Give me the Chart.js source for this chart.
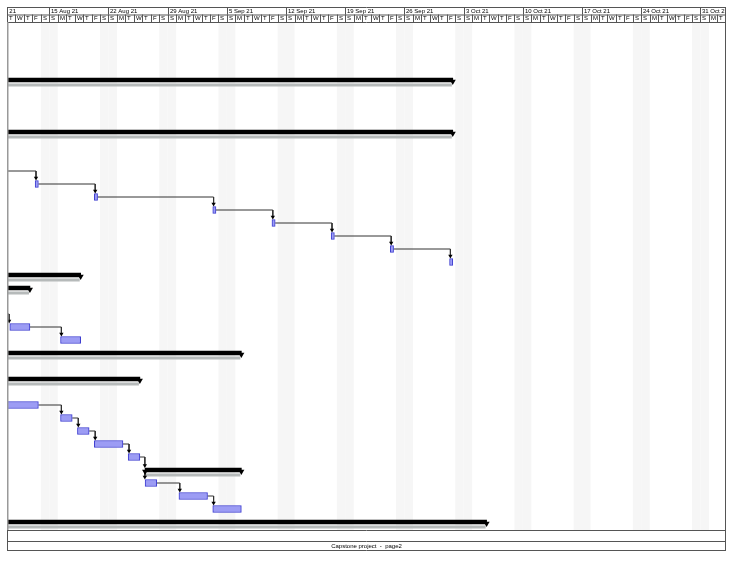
<!DOCTYPE html>
<html>
<head>
<meta charset="utf-8">
<script src="https://cdn.jsdelivr.net/npm/chart.js@4"></script>
<style>
  html, body { margin: 0; background: #fff; }
  #wrap { width: 734px; height: 563px; }
</style>
</head>
<body>
<div id="wrap"><canvas id="gantt" width="734" height="563"></canvas></div>
<script>
// time axis: 1 unit = 1 day, day 0 = Tue 10 Aug 2021
const weekLabels = ['8 Aug 21', '15 Aug 21', '22 Aug 21', '29 Aug 21', '5 Sep 21', '12 Sep 21', '19 Sep 21',
  '26 Sep 21', '3 Oct 21', '10 Oct 21', '17 Oct 21', '24 Oct 21', '31 Oct 21'];
const weekStarts = [-2, 5, 12, 19, 26, 33, 40, 47, 54, 61, 68, 75, 82];
const dayLetters = ['S', 'M', 'T', 'W', 'T', 'F', 'S'];
const footerText = 'Capstone project  -  page2';

// summary tasks (row, start, finish)
const summaryRows  = [0, 4, 15, 16, 21, 23, 30, 34];
const summaryStart = [-5, -5, -5, -5, -5, -5, 16.33, -5];
const summaryEnd   = [52.71, 52.71, 8.71, 2.71, 27.71, 15.71, 27.71, 56.71];

// normal tasks
const taskRows  = [8, 9, 10, 11, 12, 13, 14, 19, 20, 25, 26, 27, 28, 29, 31, 32, 33];
const taskStart = [3.33, 10.33, 24.33, 31.33, 38.33, 45.33, 52.33, 0.33, 6.33, -3, 6.33, 8.33, 10.33, 14.33, 16.33, 20.33, 24.33];
const taskEnd   = [3.71, 10.71, 24.71, 31.71, 38.71, 45.71, 52.71, 2.71, 8.71, 3.71, 7.71, 9.71, 13.71, 15.71, 17.71, 23.71, 27.71];

// links
const linkFromRow = [7, 8, 9, 10, 11, 12, 13, 18, 19, 25, 26, 27, 28, 29, 30, 31, 32];
const linkFromDay = [-1, 3.71, 10.71, 24.71, 31.71, 38.71, 45.71, -1, 2.71, 3.71, 7.71, 9.71, 13.71, 15.71, 16.3, 17.71, 23.71];
const linkToRow   = [8, 9, 10, 11, 12, 13, 14, 19, 20, 26, 27, 28, 29, 30, 31, 32, 33];
const linkToDay   = [3.43, 10.43, 24.43, 31.43, 38.43, 45.43, 52.43, 0.25, 6.43, 6.43, 8.43, 10.43, 14.43, 16.3, 16.3, 20.43, 24.43];

const ROW_PX = 13;

const summaryBars = summaryRows.map((r, i) => ({ x: [summaryStart[i], summaryEnd[i]], y: r }));
const baselineBars = summaryRows.map((r, i) => ({ x: [summaryStart[i], summaryEnd[i] - 0.15], y: r + 5 / ROW_PX }));
const summaryCaps = [];
summaryRows.forEach((r, i) => {
  summaryCaps.push({ x: summaryStart[i], y: r + 1.5 / ROW_PX });
  summaryCaps.push({ x: summaryEnd[i], y: r + 1.5 / ROW_PX });
});
const taskBars = taskRows.map((r, i) => ({ x: [taskStart[i], taskEnd[i]], y: r }));

const linkSets = [];
const arrowPts = [];
linkFromRow.forEach((fr, i) => {
  const toSummary = summaryRows.includes(linkToRow[i]);
  const tip = linkToRow[i] - (toSummary ? 4.5 : 6) / ROW_PX;
  linkSets.push({
    type: 'line',
    data: [
      { x: linkFromDay[i], y: fr },
      { x: linkToDay[i], y: fr },
      { x: linkToDay[i], y: tip }
    ],
    borderColor: '#333',
    borderWidth: 1,
    pointRadius: 0,
    tension: 0,
    fill: false,
    order: 3
  });
  arrowPts.push({ x: linkToDay[i], y: tip });
});

const ganttFrame = {
  id: 'ganttFrame',
  beforeDatasetsDraw(chart) {
    const { ctx, chartArea: a, scales: { x } } = chart;
    ctx.save();
    ctx.fillStyle = '#f6f6f6';
    for (let d = Math.floor(x.min) - 1; d < x.max; d++) {
      const wd = ((d + 2) % 7 + 7) % 7;
      if (wd === 0 || wd === 6) {
        const x0 = Math.max(a.left, x.getPixelForValue(d));
        const x1 = Math.min(a.right, x.getPixelForValue(d + 1));
        if (x1 > x0) ctx.fillRect(x0, a.top, x1 - x0, a.bottom - a.top);
      }
    }
    ctx.restore();
  },
  afterDraw(chart) {
    const { ctx, chartArea: a, scales: { x } } = chart;
    const top = 7, mid = 14.5, bot = a.top;
    ctx.save();
    ctx.font = '6px "Liberation Sans", Arial, sans-serif';
    ctx.textBaseline = 'middle';
    ctx.fillStyle = '#000';
    ctx.strokeStyle = '#555';
    ctx.lineWidth = 1;

    // header
    ctx.save();
    ctx.beginPath();
    ctx.rect(a.left, top, a.right - a.left, bot - top);
    ctx.clip();
    ctx.beginPath();
    weekStarts.forEach((d, i) => {
      const px = Math.round(x.getPixelForValue(d)) + 0.5;
      ctx.moveTo(px, top); ctx.lineTo(px, mid);
      ctx.fillText(weekLabels[i], px + 1.5, (top + mid) / 2 + 0.5);
    });
    for (let d = Math.floor(x.min) - 2; d < x.max; d++) {
      const px = Math.round(x.getPixelForValue(d)) + 0.5;
      ctx.moveTo(px, mid); ctx.lineTo(px, bot);
      const wd = ((d + 2) % 7 + 7) % 7;
      ctx.fillText(dayLetters[wd], px + 1.5, (mid + bot) / 2 + 0.5);
    }
    ctx.moveTo(a.left, mid + 0.5); ctx.lineTo(a.right, mid + 0.5);
    ctx.stroke();
    ctx.restore();

    // frame + footer
    const fy1 = a.bottom + 11, fy2 = a.bottom + 20;
    ctx.beginPath();
    ctx.moveTo(a.left, top + 0.5); ctx.lineTo(a.right, top + 0.5);
    ctx.moveTo(a.left, bot + 0.5); ctx.lineTo(a.right, bot + 0.5);
    ctx.moveTo(a.left, a.bottom + 0.5); ctx.lineTo(a.right, a.bottom + 0.5);
    ctx.moveTo(a.left, fy1 + 0.5); ctx.lineTo(a.right, fy1 + 0.5);
    ctx.moveTo(a.left, fy2 + 0.5); ctx.lineTo(a.right, fy2 + 0.5);
    ctx.moveTo(a.right - 0.5, top); ctx.lineTo(a.right - 0.5, fy2 + 1);
    ctx.moveTo(a.left + 0.5, top); ctx.lineTo(a.left + 0.5, bot);
    ctx.moveTo(a.left + 0.5, a.bottom); ctx.lineTo(a.left + 0.5, fy2 + 1);
    ctx.stroke();
    ctx.strokeStyle = '#999';
    ctx.lineWidth = 1.5;
    ctx.beginPath();
    ctx.moveTo(a.left + 0.75, bot); ctx.lineTo(a.left + 0.75, a.bottom);
    ctx.stroke();

    ctx.textAlign = 'center';
    ctx.fillText(footerText, (a.left + a.right) / 2, (fy1 + fy2) / 2 + 1);
    ctx.restore();
  }
};

new Chart(document.getElementById('gantt'), {
  type: 'bar',
  data: {
    datasets: [
      {
        indexAxis: 'y', grouped: false, data: baselineBars,
        backgroundColor: '#b6baba', barThickness: 2.5, order: 6
      },
      {
        indexAxis: 'y', grouped: false, data: summaryBars,
        backgroundColor: '#000', barThickness: 4, order: 5
      },
      ...linkSets,
      {
        indexAxis: 'y', grouped: false, data: taskBars,
        backgroundColor: '#9c9cf4', borderColor: '#3c3cd0', borderWidth: 1,
        borderSkipped: false, barThickness: 7, order: 2
      },
      {
        type: 'line', data: summaryCaps, showLine: false,
        pointStyle: 'triangle', rotation: 180, pointRadius: 3.5,
        pointBackgroundColor: '#000', pointBorderWidth: 0, order: 1
      },
      {
        type: 'line', data: arrowPts, showLine: false,
        pointStyle: 'triangle', rotation: 180, pointRadius: 2.5,
        pointBackgroundColor: '#000', pointBorderWidth: 0, order: 1
      }
    ]
  },
  options: {
    responsive: false,
    animation: false,
    events: [],
    layout: { padding: { left: 7, right: 8, top: 22, bottom: 33 } },
    scales: {
      x: {
        type: 'linear', min: 0, max: 719 / 8.457, offset: false, beginAtZero: false,
        bounds: 'data', grace: 0, display: false
      },
      y: {
        type: 'linear', reverse: true, min: (22 - 80) / ROW_PX, max: (530 - 80) / ROW_PX,
        offset: false, beginAtZero: false, bounds: 'data', grace: 0, display: false
      }
    },
    plugins: { legend: { display: false }, tooltip: { enabled: false } }
  },
  plugins: [ganttFrame]
});
</script>
</body>
</html>
